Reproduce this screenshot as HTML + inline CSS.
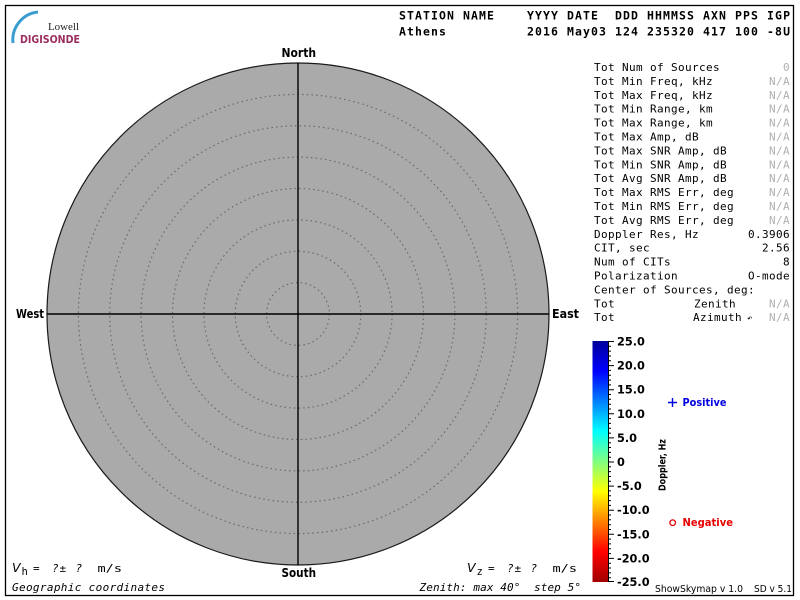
<!DOCTYPE html>
<html>
<head>
<meta charset="utf-8">
<style>
html,body{margin:0;padding:0;background:#fff;}
svg{display:block;}
.mono{font-family:"DejaVu Sans Mono","Liberation Mono",monospace;}
.sans{font-family:"DejaVu Sans","Liberation Sans",sans-serif;}
.pre{white-space:pre;}
</style>
</head>
<body>
<svg width="800" height="600" viewBox="0 0 800 600" xmlns="http://www.w3.org/2000/svg">
<defs>
<linearGradient id="jet" x1="0" y1="0" x2="0" y2="1">
<stop offset="0" stop-color="#00009a"/>
<stop offset="0.125" stop-color="#0000ff"/>
<stop offset="0.375" stop-color="#00ffff"/>
<stop offset="0.5" stop-color="#80ff80"/>
<stop offset="0.625" stop-color="#ffff00"/>
<stop offset="0.875" stop-color="#ff0000"/>
<stop offset="1" stop-color="#a00000"/>
</linearGradient>
</defs>
<rect x="0" y="0" width="800" height="600" fill="#fff"/>
<!-- frame -->
<rect x="5.5" y="5.5" width="788" height="590" fill="none" stroke="#000" stroke-width="1.3"/>

<!-- logo -->
<path d="M13,43 A28,28 0 0 1 38,12" fill="none" stroke="#3a9ccf" stroke-width="3"/>
<text x="48" y="30" font-family="Liberation Serif,serif" font-size="11" fill="#222" textLength="31" lengthAdjust="spacingAndGlyphs">Lowell</text>
<text x="20" y="43" class="sans" font-size="11" font-weight="600" fill="#9c2d5f" textLength="60" lengthAdjust="spacingAndGlyphs">DIGISONDE</text>

<!-- header -->
<text x="399" y="19.5" class="mono pre" font-size="11.5" font-weight="bold" textLength="391" lengthAdjust="spacing">STATION NAME    YYYY DATE  DDD HHMMSS AXN PPS IGP</text>
<text x="399" y="35.5" class="mono pre" font-size="11.5" font-weight="bold" textLength="391" lengthAdjust="spacing">Athens          2016 May03 124 235320 417 100 -8U</text>

<!-- skymap circle -->
<circle cx="298" cy="314" r="251" fill="#aaaaaa" stroke="#1a1a1a" stroke-width="1.2"/>
<g fill="none" stroke="#6a6a6a" stroke-width="1.2" stroke-dasharray="1.5 3.2">
<circle cx="298" cy="314" r="31.4"/>
<circle cx="298" cy="314" r="62.75"/>
<circle cx="298" cy="314" r="94.1"/>
<circle cx="298" cy="314" r="125.5"/>
<circle cx="298" cy="314" r="156.9"/>
<circle cx="298" cy="314" r="188.25"/>
<circle cx="298" cy="314" r="219.6"/>
</g>
<line x1="298" y1="63" x2="298" y2="565" stroke="#000" stroke-width="1.4"/>
<line x1="47" y1="314" x2="549" y2="314" stroke="#000" stroke-width="1.4"/>

<g class="sans" font-weight="bold" font-size="12">
<text x="281.5" y="57" textLength="34.5" lengthAdjust="spacingAndGlyphs">North</text>
<text x="281.5" y="577" textLength="34.5" lengthAdjust="spacingAndGlyphs">South</text>
<text x="16" y="318" textLength="28" lengthAdjust="spacingAndGlyphs">West</text>
<text x="552" y="318" textLength="27" lengthAdjust="spacingAndGlyphs">East</text>
</g>

<!-- right panel -->
<g class="mono pre" font-size="11" letter-spacing="0.38" fill="#000">
<text x="594" y="71">Tot Num of Sources</text>
<text x="594" y="84.9">Tot Min Freq, kHz</text>
<text x="594" y="98.8">Tot Max Freq, kHz</text>
<text x="594" y="112.7">Tot Min Range, km</text>
<text x="594" y="126.6">Tot Max Range, km</text>
<text x="594" y="140.5">Tot Max Amp, dB</text>
<text x="594" y="154.4">Tot Max SNR Amp, dB</text>
<text x="594" y="168.3">Tot Min SNR Amp, dB</text>
<text x="594" y="182.2">Tot Avg SNR Amp, dB</text>
<text x="594" y="196.1">Tot Max RMS Err, deg</text>
<text x="594" y="210">Tot Min RMS Err, deg</text>
<text x="594" y="223.9">Tot Avg RMS Err, deg</text>
<text x="594" y="237.8">Doppler Res, Hz</text>
<text x="594" y="251.7">CIT, sec</text>
<text x="594" y="265.6">Num of CITs</text>
<text x="594" y="279.5">Polarization</text>
<text x="594" y="293.4">Center of Sources, deg:</text>
<text x="594" y="307.3">Tot</text>
<text x="694" y="307.3">Zenith</text>
<text x="594" y="321.2">Tot</text>
<text x="693" y="321.2">Azimuth</text>
<text x="747" y="321.2" font-size="9">↶</text>
</g>
<g class="mono" font-size="11" letter-spacing="0.38" text-anchor="end">
<text x="790" y="71" fill="#b0b0b0">0</text>
<text x="790" y="84.9" fill="#b0b0b0">N/A</text>
<text x="790" y="98.8" fill="#b0b0b0">N/A</text>
<text x="790" y="112.7" fill="#b0b0b0">N/A</text>
<text x="790" y="126.6" fill="#b0b0b0">N/A</text>
<text x="790" y="140.5" fill="#b0b0b0">N/A</text>
<text x="790" y="154.4" fill="#b0b0b0">N/A</text>
<text x="790" y="168.3" fill="#b0b0b0">N/A</text>
<text x="790" y="182.2" fill="#b0b0b0">N/A</text>
<text x="790" y="196.1" fill="#b0b0b0">N/A</text>
<text x="790" y="210" fill="#b0b0b0">N/A</text>
<text x="790" y="223.9" fill="#b0b0b0">N/A</text>
<text x="790" y="237.8" fill="#000">0.3906</text>
<text x="790" y="251.7" fill="#000">2.56</text>
<text x="790" y="265.6" fill="#000">8</text>
<text x="790" y="279.5" fill="#000">O-mode</text>
<text x="790" y="307.3" fill="#b0b0b0">N/A</text>
<text x="790" y="321.2" fill="#b0b0b0">N/A</text>
</g>

<!-- colorbar -->
<rect x="592.5" y="341" width="15.5" height="241" fill="url(#jet)"/>
<line x1="608.5" y1="341" x2="608.5" y2="582" stroke="#000" stroke-width="1"/>
<g stroke="#000" stroke-width="1">
<path d="M608,341.5h6 M608,365.6h6 M608,389.7h6 M608,413.8h6 M608,437.9h6 M608,462h6 M608,486.1h6 M608,510.2h6 M608,534.3h6 M608,558.4h6 M608,581.5h6"/>
<path d="M608,346.3h3 M608,351.1h3 M608,356h3 M608,360.8h3 M608,370.4h3 M608,375.2h3 M608,380.1h3 M608,384.9h3 M608,394.5h3 M608,399.3h3 M608,404.2h3 M608,409h3 M608,418.6h3 M608,423.4h3 M608,428.3h3 M608,433.1h3 M608,442.7h3 M608,447.5h3 M608,452.4h3 M608,457.2h3 M608,466.8h3 M608,471.6h3 M608,476.5h3 M608,481.3h3 M608,490.9h3 M608,495.7h3 M608,500.6h3 M608,505.4h3 M608,515h3 M608,519.8h3 M608,524.7h3 M608,529.5h3 M608,539.1h3 M608,543.9h3 M608,548.8h3 M608,553.6h3 M608,563.2h3 M608,568h3 M608,572.9h3 M608,577.7h3"/>
</g>
<g class="sans" font-weight="bold" font-size="11.3" fill="#000">
<text x="617" y="345.5">25.0</text>
<text x="617" y="369.6">20.0</text>
<text x="617" y="393.7">15.0</text>
<text x="617" y="417.8">10.0</text>
<text x="617" y="441.9">5.0</text>
<text x="617" y="466">0</text>
<text x="617" y="490.1">-5.0</text>
<text x="617" y="514.2">-10.0</text>
<text x="617" y="538.3">-15.0</text>
<text x="617" y="562.4">-20.0</text>
<text x="617" y="586">-25.0</text>
</g>
<text transform="translate(665.5,465) rotate(-90)" text-anchor="middle" class="sans" font-weight="bold" font-size="10" textLength="52" lengthAdjust="spacingAndGlyphs">Doppler, Hz</text>

<!-- legend -->
<path d="M668,402.5h9 M672.5,398v9" stroke="#0000e0" stroke-width="1.4"/>
<text x="682.5" y="406" class="sans" font-weight="bold" font-size="10.5" fill="#0000e0" textLength="44" lengthAdjust="spacingAndGlyphs">Positive</text>
<circle cx="672.7" cy="522.7" r="2.8" fill="none" stroke="#e80000" stroke-width="1.3"/>
<text x="682.5" y="526" class="sans" font-weight="bold" font-size="10.5" fill="#e80000" textLength="50.5" lengthAdjust="spacingAndGlyphs">Negative</text>

<text x="655" y="592" class="sans" font-size="10" fill="#000" textLength="88" lengthAdjust="spacingAndGlyphs">ShowSkymap v 1.0</text>
<text x="754" y="592" class="sans" font-size="10" fill="#000" textLength="38" lengthAdjust="spacingAndGlyphs">SD v 5.1</text>

<!-- bottom left -->
<g class="mono" font-size="11" font-style="italic" fill="#000">
<text x="12" y="572" class="sans" font-size="12.5">V</text>
<text x="21.5" y="575" font-style="normal" font-size="10.5">h</text>
<text x="33" y="572" font-style="normal">=</text>
<text x="52" y="572">?</text>
<text x="59.5" y="572" font-style="normal">±</text>
<text x="75.5" y="572">?</text>
<text x="97.5" y="572" font-style="normal" textLength="24.5" lengthAdjust="spacingAndGlyphs">m/s</text>
<text x="12" y="591" textLength="153" lengthAdjust="spacing">Geographic coordinates</text>

<text x="467" y="572" class="sans" font-size="12.5">V</text>
<text x="476.5" y="575" font-style="normal" font-size="10.5">z</text>
<text x="488" y="572" font-style="normal">=</text>
<text x="507" y="572">?</text>
<text x="514.5" y="572" font-style="normal">±</text>
<text x="530.5" y="572">?</text>
<text x="552.5" y="572" font-style="normal" textLength="24.5" lengthAdjust="spacingAndGlyphs">m/s</text>
<text x="419.5" y="591" class="pre" textLength="161.5" lengthAdjust="spacing">Zenith: max 40°  step 5°</text>
</g>
</svg>
</body>
</html>
